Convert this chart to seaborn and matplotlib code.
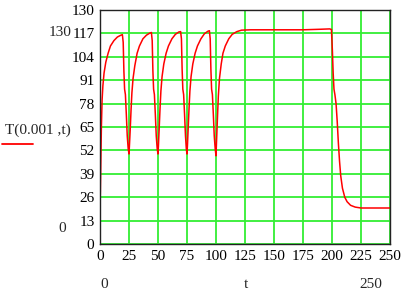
import matplotlib
matplotlib.use("Agg")
import matplotlib.pyplot as plt
import seaborn as sns
import pandas as pd

# time points
t = [0, 0.3, 0.7, 1.2, 1.8, 2.5, 3.5, 5, 7, 9, 12, 15, 18, 19.3, 20.0, 20.6, 21.2, 21.9, 22.7, 23.5, 24.3, 25,
     25.4, 26, 26.8, 27.5, 28.5, 30, 32, 34, 37, 40, 43, 44.3, 45.0, 45.6, 46.2, 46.9, 47.7, 48.5, 49.3, 50,
     50.4, 51, 51.8, 52.5, 53.5, 55, 57, 59, 62, 65, 68, 69.5, 70.2, 70.8, 71.4, 72.1, 72.9, 73.7, 74.4, 75,
     75.4, 76, 76.8, 77.5, 78.5, 80, 82, 84, 87, 90, 93, 94.3, 95.0, 95.6, 96.2, 96.9, 97.7, 98.5, 99.3, 100,
     100.4, 101, 102, 103, 104.5, 106, 108, 111, 114, 118, 122, 130, 175, 190, 198, 199.5,
     200.3, 201, 201.7, 202.5, 203.5, 204.5, 205.5, 206.5, 207.5, 209, 211, 213, 216, 220, 225, 250]
T = [20, 29, 45, 65, 80, 88, 95, 101, 106, 110, 113, 115, 116, 116.3, 112, 96, 86, 83, 72, 60, 53, 50,
     55, 63, 75, 84, 92, 99, 106, 110, 114, 116, 117.2, 117.5, 113, 96, 86, 83, 72, 60, 53, 50,
     55, 64, 76, 85, 93, 100, 106, 110, 114, 116.5, 117.8, 118, 114, 97, 86, 83, 72, 60, 53, 50,
     55, 64, 76, 85, 93, 100, 106, 110, 114, 116.8, 118.2, 118.5, 114, 97, 86, 83, 72, 60, 53, 49,
     56, 66, 82, 92, 100, 106, 110, 114, 116.5, 118, 118.8, 119, 119, 119.3, 119.5, 119.2,
     108, 95, 86, 83, 78, 68, 56, 46, 38, 31, 26, 23.5, 21.5, 20.5, 20, 20]

x_ticks = [0, 25, 50, 75, 100, 125, 150, 175, 200, 225, 250]
y_ticks = [0, 13, 26, 39, 52, 65, 78, 91, 104, 117, 130]

df = pd.DataFrame({"t": t, "T": T})

sns.set_style("white")
plt.rcParams["font.family"] = ["Liberation Serif", "DejaVu Serif"]

fig = plt.figure(figsize=(4.1, 2.93), dpi=100)
ax = fig.add_axes([100 / 410, 1 - 244 / 293, 290 / 410, 234 / 293])

sns.lineplot(data=df, x="t", y="T", ax=ax, color="#ff0000", linewidth=1.1)

ax.set_xlim(0, 250)
ax.set_ylim(0, 130)
ax.set_xticks(x_ticks)
ax.set_yticks(y_ticks)
ax.tick_params(length=0, labelsize=11, pad=4, colors="black")
ax.grid(True, color="#33ee33", linewidth=1.3)
ax.set_axisbelow(True)
for s in ax.spines.values():
    s.set_color("#222222")
    s.set_linewidth(1.0)
ax.set_xlabel("")
ax.set_ylabel("")

# Mathcad style outer labels
fig.text(60 / 410, 1 - 32 / 293, "130", ha="center", va="center", fontsize=11)
fig.text(62 / 410, 1 - 228 / 293, "0", ha="center", va="center", fontsize=11)
fig.text(38 / 410, 1 - 130 / 293, "T(0.001 ,t)", ha="center", va="center", fontsize=11)
fig.add_artist(plt.Line2D([2 / 410, 33 / 410], [1 - 144 / 293, 1 - 144 / 293], color="#ff0000", linewidth=1.3))
fig.text(104 / 410, 1 - 284 / 293, "0", ha="center", va="center", fontsize=11)
fig.text(246 / 410, 1 - 284 / 293, "t", ha="center", va="center", fontsize=11)
fig.text(371 / 410, 1 - 284 / 293, "250", ha="center", va="center", fontsize=11)

fig.savefig("out.png", dpi=100)
